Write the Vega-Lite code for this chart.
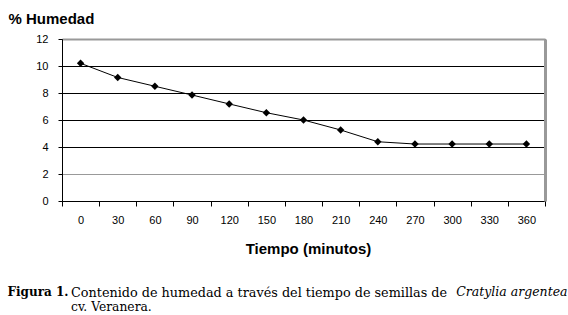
{
  "$schema": "https://vega.github.io/schema/vega-lite/v6.json",
  "autosize": "none",
  "width": 483,
  "height": 162,
  "padding": {"left": 62, "top": 39, "right": 23, "bottom": 114},
  "background": "white",
  "config": {"view": {"stroke": null}},
  "data": {"values": [
    {"t": 0, "h": 10.2}, {"t": 30, "h": 9.15}, {"t": 60, "h": 8.5}, {"t": 90, "h": 7.85},
    {"t": 120, "h": 7.19}, {"t": 150, "h": 6.54}, {"t": 180, "h": 6.0}, {"t": 210, "h": 5.26},
    {"t": 240, "h": 4.39}, {"t": 270, "h": 4.22}, {"t": 300, "h": 4.22}, {"t": 330, "h": 4.22}, {"t": 360, "h": 4.22}
  ]},
  "title": {
    "text": "Contenido de humedad a través del tiempo de semillas de",
    "subtitle": "cv. Veranera.",
    "orient": "bottom",
    "anchor": "start",
    "frame": "group",
    "dx": 9,
    "offset": -11,
    "font": "DejaVu Serif",
    "fontSize": 12.8,
    "fontWeight": "normal",
    "color": "black",
    "subtitleFont": "DejaVu Serif",
    "subtitleFontSize": 12.3,
    "subtitleColor": "black",
    "subtitlePadding": 2
  },
  "layer": [
    {
      "mark": {"type": "line", "color": "black", "strokeWidth": 1},
      "encoding": {
        "x": {"field": "t", "type": "ordinal",
          "scale": {"type": "band", "paddingInner": 0, "paddingOuter": 0},
          "axis": {"orient": "bottom", "labelAngle": 0, "tickBand": "extent", "tickSize": 5, "tickColor": "black",
            "domainColor": "black", "labelFont": "Liberation Sans", "labelFontSize": 11, "labelColor": "black",
            "labelPadding": 8, "grid": false,
            "title": "Tiempo (minutos)", "titleFont": "Liberation Sans", "titleFontSize": 15, "titleFontWeight": "bold",
            "titleColor": "black", "titleX": 246, "titleY": 47, "titleBaseline": "middle", "titleAlign": "center"}},
        "y": {"field": "h", "type": "quantitative",
          "scale": {"domain": [0, 12], "nice": false, "zero": true},
          "axis": {"orient": "left", "values": [0, 2, 4, 6, 8, 10, 12], "tickSize": 4, "tickColor": "black",
            "domainColor": "black", "labelFont": "Liberation Sans", "labelFontSize": 11, "labelColor": "black",
            "labelPadding": 10,
            "grid": true, "gridColor": {"condition": {"test": "datum.value == 2", "value": "#999999"}, "value": "black"},
            "gridOpacity": 1, "gridWidth": 1,
            "title": "% Humedad", "titleFont": "Liberation Sans", "titleFontSize": 15, "titleFontWeight": "bold",
            "titleColor": "black", "titleAngle": 0, "titleX": -54, "titleY": -21, "titleAlign": "left", "titleBaseline": "middle"}}
      }
    },
    {
      "mark": {"type": "point", "shape": "diamond", "filled": true, "color": "black", "size": 55, "opacity": 1},
      "encoding": {
        "x": {"field": "t", "type": "ordinal",
          "axis": {"orient": "top", "labels": false, "ticks": false, "domainColor": "#999999", "domainWidth": 2, "grid": false,
            "title": "Cratylia argentea", "titleFont": "DejaVu Serif", "titleFontSize": 12.5, "titleFontWeight": "normal",
            "titleFontStyle": "italic", "titleColor": "black", "titleX": 505, "titleY": 252, "titleAlign": "right", "titleBaseline": "middle"}},
        "y": {"field": "h", "type": "quantitative",
          "axis": {"orient": "right", "labels": false, "ticks": false, "domainColor": "#999999", "domainWidth": 3, "grid": false,
            "title": "Figura 1.", "titleFont": "DejaVu Serif", "titleFontSize": 12, "titleFontWeight": "bold",
            "titleColor": "black", "titleAngle": 0, "titleX": -538, "titleY": 252, "titleAlign": "left", "titleBaseline": "middle"}}
      }
    }
  ],
  "resolve": {"axis": {"x": "independent", "y": "independent"}}
}
